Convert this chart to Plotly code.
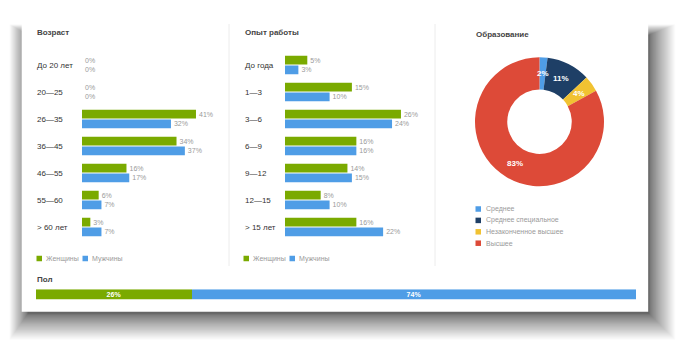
import math
import plotly.graph_objects as go

W, H = 690, 354

# ---------------- data ----------------
age_cats = ["До 20 лет", "20—25", "26—35", "36—45", "46—55", "55—60", "> 60 лет"]
age_women = [0, 0, 41, 34, 16, 6, 3]
age_men = [0, 0, 32, 37, 17, 7, 7]

exp_cats = ["До года", "1—3", "3—6", "6—9", "9—12", "12—15", "> 15 лет"]
exp_women = [5, 15, 26, 16, 14, 8, 16]
exp_men = [3, 10, 24, 16, 15, 10, 22]

edu_labels = ["Среднее", "Среднее специальное", "Незаконченное высшее", "Высшее"]
edu_values = [2, 11, 4, 83]

gender_labels = ["Женщины", "Мужчины"]
gender_values = [26, 74]

titles = ["Возраст", "Опыт работы", "Образование", "Пол"]

# ---------------- style ----------------
GREEN = "#7aaa00"
BLUE = "#4f9de6"
EDU_COLORS = ["#4f9de6", "#1e3f66", "#f1c232", "#dd4a38"]
FONT = "Liberation Sans, Arial, sans-serif"
DARK = "#333333"
GRAY = "#9a9a9a"


def px(x):
    return x / W


def py(y):
    return 1 - y / H


fig = go.Figure()

# grouped bar panels
panels = [
    (age_cats, age_women, age_men, "x", "y"),
    (exp_cats, exp_women, exp_men, "x2", "y2"),
]
for cats, women, men, xa, ya in panels:
    for name, vals, col in ((gender_labels[0], women, GREEN), (gender_labels[1], men, BLUE)):
        fig.add_trace(go.Bar(
            y=cats, x=vals, orientation="h", name=name,
            marker=dict(color=col, line=dict(width=0)),
            text=[f"{v}%" for v in vals], textposition="outside",
            textfont=dict(size=7, color=GRAY, family=FONT),
            cliponaxis=False, xaxis=xa, yaxis=ya, showlegend=False,
            hoverinfo="skip",
        ))

# gender stacked bar (single trace with bases)
bases = [0]
for v in gender_values[:-1]:
    bases.append(bases[-1] + v)
fig.add_trace(go.Bar(
    y=[titles[3]] * len(gender_values), x=gender_values, base=bases,
    orientation="h", width=[1] * len(gender_values),
    marker=dict(color=[GREEN, BLUE], line=dict(width=0)),
    text=[f"{v}%" for v in gender_values], textposition="inside",
    insidetextanchor="middle",
    textfont=dict(size=7, color="white", family=FONT, weight="bold"),
    xaxis="x3", yaxis="y3", showlegend=False, hoverinfo="skip",
))

# donut
cx, cy, r = 539.5, 121.7, 64.5
hole = 0.5
fig.add_trace(go.Pie(
    labels=edu_labels, values=edu_values, hole=hole, sort=False,
    direction="clockwise", rotation=0,
    marker=dict(colors=EDU_COLORS, line=dict(width=0)),
    textinfo="none",
    domain=dict(x=[px(cx - r), px(cx + r)], y=[py(cy + r), py(cy - r)]),
    showlegend=False, hoverinfo="skip",
))

row_top, row_h = 51.5, 27
n = len(age_cats)
ydom = [py(row_top + row_h * n), py(row_top)]
hidden = dict(showgrid=False, zeroline=False, showticklabels=False, showline=False, ticks="")

fig.update_layout(
    width=W, height=H, margin=dict(l=0, r=0, t=0, b=0),
    paper_bgcolor="white", plot_bgcolor="rgba(0,0,0,0)",
    barmode="group", bargap=0.27, bargroupgap=0.1,
    uniformtext=dict(minsize=7, mode="show"),
    xaxis=dict(domain=[px(82), px(82 + 2.78 * 50)], range=[0, 50], **hidden),
    yaxis=dict(domain=ydom, type="category", categoryarray=age_cats,
               range=[n - 0.5, -0.5], **hidden),
    xaxis2=dict(domain=[px(285), px(285 + 4.46 * 30)], range=[0, 30], **hidden),
    yaxis2=dict(domain=ydom, type="category", categoryarray=exp_cats,
                range=[n - 0.5, -0.5], **hidden),
    xaxis3=dict(domain=[px(36), px(636)], range=[0, 100], **hidden),
    yaxis3=dict(domain=[py(299.5), py(289.3)], range=[-0.5, 0.5], type="category", **hidden),
    hovermode=False,
)

shapes = []
# card shadow: stacked translucent rects, denser near the card for a soft falloff
card = (21.7, 20.7, 648.2, 311.7)
N = 40
for i in range(N):
    e = 26 * (i / (N - 1)) ** 1.6
    shapes.append(dict(type="rect", xref="paper", yref="paper", layer="below",
                       x0=px(card[0] + 6 - e * 0.7), x1=px(card[2] + 1 + e),
                       y0=py(card[3] + 2 + e), y1=py(card[1] + 14 - e * 0.4),
                       line=dict(width=0), fillcolor="rgba(0,0,0,0.018)"))
shapes.append(dict(type="rect", xref="paper", yref="paper", layer="below",
                   x0=px(card[0]), x1=px(card[2]), y0=py(card[3]), y1=py(card[1]),
                   line=dict(width=0), fillcolor="white"))
# dividers
for xd in (229, 435):
    shapes.append(dict(type="line", xref="paper", yref="paper", layer="below",
                       x0=px(xd), x1=px(xd), y0=py(266), y1=py(24),
                       line=dict(color="#ececec", width=1)))

annotations = []
# titles
for t, (tx, ty) in zip(titles, [(34.5, 33), (242.5, 33), (473.5, 34), (34.5, 279)]):
    annotations.append(dict(text=t, x=px(tx), y=py(ty), xref="paper", yref="paper",
                            xanchor="left", yanchor="middle", showarrow=False,
                            font=dict(size=8, color="#444", family=FONT, weight="bold")))
# category labels
for cats, lx, ya in ((age_cats, 34.5, "y"), (exp_cats, 242.5, "y2")):
    for c in cats:
        annotations.append(dict(text=c, x=px(lx), y=c, xref="paper", yref=ya,
                                xanchor="left", yanchor="middle", showarrow=False,
                                font=dict(size=8, color=DARK, family=FONT)))

# donut labels, placed at the middle of each slice's ring
total = sum(edu_values)
cum = 0
rmid = r * (1 + hole) / 2
for v in edu_values:
    mid = (cum + v / 2) / total * 2 * math.pi
    cum += v
    lx = cx + rmid * math.sin(mid)
    ly = cy - rmid * math.cos(mid)
    annotations.append(dict(text=f"{v}%", x=px(lx), y=py(ly), xref="paper", yref="paper",
                            xanchor="center", yanchor="middle", showarrow=False,
                            font=dict(size=8, color="white", family=FONT, weight="bold")))


# legends
def legend_item(x, y, color, label, size=5.5, gap=2):
    shapes.append(dict(type="rect", xref="paper", yref="paper",
                       x0=px(x), x1=px(x + size), y0=py(y + size / 2), y1=py(y - size / 2),
                       line=dict(width=0), fillcolor=color))
    annotations.append(dict(text=label, x=px(x + size + gap), y=py(y), xref="paper", yref="paper",
                            xanchor="left", yanchor="middle", showarrow=False,
                            font=dict(size=7, color=GRAY, family=FONT)))


for lx in (36.5, 243.5):
    legend_item(lx, 258.5, GREEN, gender_labels[0])
    legend_item(lx + 46, 258.5, BLUE, gender_labels[1])

for i, (lab, col) in enumerate(zip(edu_labels, EDU_COLORS)):
    legend_item(475.5, 209 + i * 11.4, col, lab, size=5.5, gap=2.5)

fig.update_layout(shapes=shapes, annotations=annotations)
fig.write_html("out.html")
